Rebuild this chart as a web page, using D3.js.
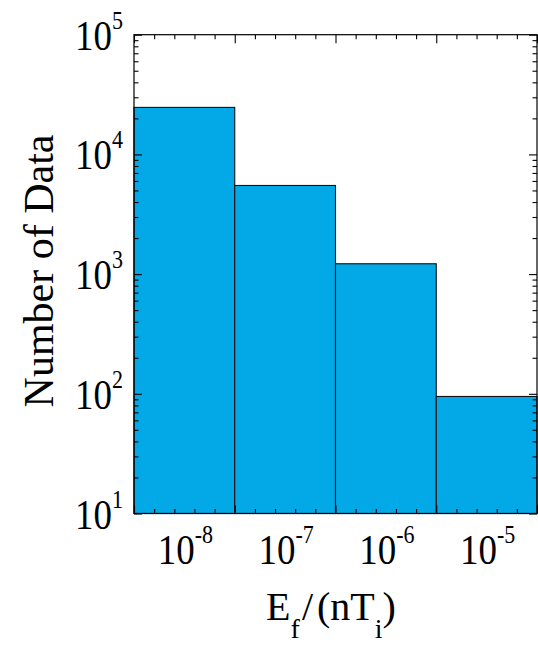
<!DOCTYPE html>
<html>
<head>
<meta charset="utf-8">
<script src="https://cdn.jsdelivr.net/npm/d3@7/dist/d3.min.js"></script>
<style>
  body { margin: 0; background: #fff; }
  text { font-family: "Liberation Serif", "DejaVu Serif", serif; fill: #000; }
</style>
</head>
<body>
<svg></svg>
<script>
var width = 538,
    height = 645;

var plotLeft = 134, plotRight = 537,
    plotTop = 34.7, plotBottom = 513.5;

// histogram bins, given as log10 of the edges, and the counts in each bin
var binEdges = [-8.5, -7.5, -6.5, -5.5, -4.5];
var counts = [24700, 5500, 1220, 95];

// tick labels (exponents of ten)
var xTickExps = [-8, -7, -6, -5];
var yTickExps = [1, 2, 3, 4, 5];

var svg = d3.select("svg")
    .attr("width", width)
    .attr("height", height);

var x = d3.scaleLog()
    .domain([Math.pow(10, binEdges[0]), Math.pow(10, binEdges[binEdges.length - 1])])
    .range([plotLeft, plotRight]);

var y = d3.scaleLog()
    .domain([10, 1e5])
    .range([plotBottom, plotTop]);

var bins = counts.map(function(c, i) {
  return { x0: Math.pow(10, binEdges[i]), x1: Math.pow(10, binEdges[i + 1]), n: c };
});

svg.selectAll(".bar")
    .data(bins)
  .enter().append("rect")
    .attr("class", "bar")
    .attr("x", function(d) { return x(d.x0); })
    .attr("width", function(d) { return x(d.x1) - x(d.x0); })
    .attr("y", function(d) { return y(d.n); })
    .attr("height", function(d) { return y(10) - y(d.n); })
    .attr("fill", "#02a9e6")
    .attr("stroke", "#111")
    .attr("stroke-width", 1.1);

// tick positions
var xMajor = binEdges.map(function(e) { return Math.pow(10, e); });
var xMinor = [];
for (var k = 0; k <= 20; k++) {
  if (k % 5 !== 0) xMinor.push(Math.pow(10, binEdges[0] + k * 0.2));
}
var yMajor = yTickExps.map(function(e) { return Math.pow(10, e); });
var yMinor = [];
yTickExps.slice(0, -1).forEach(function(e) {
  for (var m = 2; m <= 9; m++) yMinor.push(m * Math.pow(10, e));
});

function tickAxis(axisFn, scale, values, size, tx, ty) {
  var g = svg.append("g")
      .attr("transform", "translate(" + tx + "," + ty + ")")
      .call(axisFn(scale).tickValues(values).tickSize(size).tickSizeOuter(0).tickFormat(""));
  g.select(".domain").remove();
  g.selectAll(".tick line").attr("stroke", "#000").attr("stroke-width", 1.1);
}

// ticks point inwards on all four sides
tickAxis(d3.axisBottom, x, xMajor, -8, 0, plotBottom);
tickAxis(d3.axisBottom, x, xMinor, -4.5, 0, plotBottom);
tickAxis(d3.axisTop, x, xMajor, -8.5, 0, plotTop);
tickAxis(d3.axisTop, x, xMinor, -4.5, 0, plotTop);
tickAxis(d3.axisLeft, y, yMajor, -8, plotLeft, 0);
tickAxis(d3.axisLeft, y, yMinor, -4.5, plotLeft, 0);
tickAxis(d3.axisRight, y, yMajor, -8, plotRight, 0);
tickAxis(d3.axisRight, y, yMinor, -4.5, plotRight, 0);

// frame
svg.append("rect")
    .attr("x", plotLeft)
    .attr("y", plotTop)
    .attr("width", plotRight - plotLeft)
    .attr("height", plotBottom - plotTop)
    .attr("fill", "none")
    .attr("stroke", "#000")
    .attr("stroke-width", 1.2);

// tick labels are a bit narrow and tall in the original
var squeeze = 0.88;

var yLab = svg.selectAll(".ylab")
    .data(yTickExps)
  .enter().append("text")
    .attr("class", "ylab")
    .attr("transform", function(d) {
      return "translate(123," + (y(Math.pow(10, d)) + 15) + ") scale(" + squeeze + ",1)";
    })
    .attr("text-anchor", "end")
    .style("font-size", "42px");
yLab.append("tspan").text("10");
yLab.append("tspan")
    .attr("dy", -21)
    .style("font-size", "25px")
    .text(function(d) { return d; });

var xLab = svg.selectAll(".xlab")
    .data(xTickExps)
  .enter().append("text")
    .attr("class", "xlab")
    .attr("transform", function(d) {
      return "translate(" + (x(Math.pow(10, d)) + 1) + ",564) scale(" + squeeze + ",1)";
    })
    .attr("text-anchor", "middle")
    .style("font-size", "42px");
xLab.append("tspan").text("10");
xLab.append("tspan")
    .attr("dy", -21)
    .style("font-size", "25px")
    .text(function(d) { return d; });

// axis titles
var xt = svg.append("text")
    .attr("x", 331)
    .attr("y", 620)
    .attr("text-anchor", "middle")
    .style("font-size", "40px");
xt.append("tspan").text("E");
xt.append("tspan").attr("dy", 18).style("font-size", "28px").text("f");
xt.append("tspan").attr("dy", -18).attr("dx", 2).text("/");
xt.append("tspan").attr("dx", 4).text("(nT");
xt.append("tspan").attr("dy", 18).style("font-size", "28px").text("i");
xt.append("tspan").attr("dy", -18).text(")");

svg.append("text")
    .attr("transform", "translate(53,271) rotate(-90)")
    .attr("text-anchor", "middle")
    .style("font-size", "42px")
    .text("Number of Data");
</script>
</body>
</html>
